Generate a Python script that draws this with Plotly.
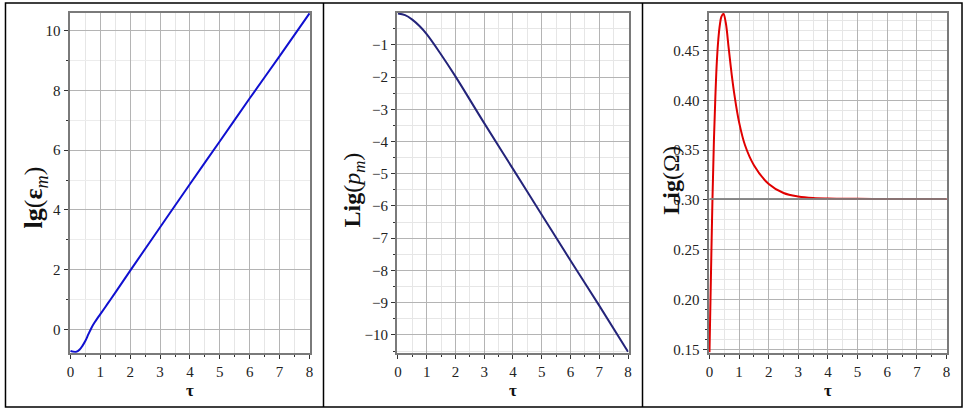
import plotly.graph_objects as go

# --- data ---
tau_eps = [0, 0.1, 0.2, 0.3, 0.4, 0.5, 0.6, 0.7, 0.8, 0.9, 1.0, 1.25, 1.5, 2, 3, 4, 5, 6, 7, 8]
lg_eps = [-0.72, -0.75, -0.75, -0.68, -0.55, -0.38, -0.16, 0.05, 0.22, 0.37, 0.51,
          0.87, 1.23, 1.97, 3.42, 4.87, 6.3, 7.74, 9.15, 10.58]

tau_p = [0, 0.25, 0.5, 0.75, 1.0, 1.5, 2, 3, 4, 5, 6, 7, 8]
lg_p = [-0.03, -0.08, -0.22, -0.42, -0.67, -1.3, -1.98, -3.43, -4.85, -6.27, -7.69, -9.09, -10.52]

tau_om = [0, 0.05, 0.1, 0.15, 0.2, 0.25, 0.3, 0.35, 0.4, 0.47, 0.55, 0.65, 0.75, 0.85,
          1.0, 1.2, 1.5, 2.0, 2.5, 3.0, 3.5, 4, 5, 6, 7, 8]
lg_om = [0.147, 0.225, 0.30, 0.36, 0.405, 0.44, 0.462, 0.476, 0.484, 0.487, 0.478, 0.452,
         0.426, 0.404, 0.378, 0.355, 0.335, 0.316, 0.307, 0.3035, 0.302, 0.3015, 0.3012,
         0.301, 0.301, 0.301]
om_limit = 0.301

W, H = 967, 415
SERIF = "Liberation Serif"

fig = go.Figure()
fig.add_trace(go.Scatter(x=tau_eps, y=lg_eps, mode="lines", line=dict(color="#1010d0", width=2, shape="spline"),
                         xaxis="x", yaxis="y", showlegend=False))
fig.add_trace(go.Scatter(x=tau_p, y=lg_p, mode="lines", line=dict(color="#24247a", width=2, shape="spline"),
                         xaxis="x2", yaxis="y2", showlegend=False))
fig.add_trace(go.Scatter(x=tau_om, y=lg_om, mode="lines", line=dict(color="#e00000", width=2, shape="spline"),
                         xaxis="x3", yaxis="y3", showlegend=False))
fig.add_trace(go.Scatter(x=[0, 8], y=[om_limit, om_limit], mode="lines",
                         line=dict(color="rgba(128,128,128,0.9)", width=2),
                         xaxis="x3", yaxis="y3", showlegend=False))


def px(v):
    return v / W


def py(v):
    return 1 - v / H


common = dict(showline=True, linecolor="#7a7a7a", linewidth=2, mirror=True,
              ticks="outside", ticklen=4, tickcolor="#333", showgrid=True,
              gridcolor="#b4b4b4", gridwidth=1, zeroline=False,
              tickfont=dict(family=SERIF, size=15, color="#222"))

ydom = [py(357), py(13)]
xaxes = [(67, 309), (396.5, 629.5), (710, 950)]
for i, (a, b) in enumerate(xaxes):
    key = "xaxis" if i == 0 else f"xaxis{i + 1}"
    fig.layout[key] = dict(common, domain=[px(a), px(b)], range=[-0.03, 8.02], dtick=1,
                           anchor="y" if i == 0 else f"y{i + 1}",
                           minor=dict(dtick=0.5, ticks="outside", ticklen=2, showgrid=True,
                                      gridcolor="#e6e6e6", tickcolor="#333"))

fig.layout["yaxis"] = dict(common, domain=ydom, range=[-0.78, 10.6], dtick=2, anchor="x",
                           minor=dict(dtick=1, ticks="outside", ticklen=2, showgrid=True,
                                      gridcolor="#ececec", tickcolor="#333"))
fig.layout["yaxis2"] = dict(common, domain=ydom, range=[-10.55, -0.01], dtick=1, anchor="x2",
                            minor=dict(dtick=0.5, ticks="outside", ticklen=2, showgrid=True,
                                       gridcolor="#e6e6e6", tickcolor="#333"))
fig.layout["yaxis3"] = dict(common, domain=ydom, range=[0.1466, 0.488], dtick=0.05, tick0=0,
                            tickformat=".2f", anchor="x3",
                            minor=dict(dtick=0.01, ticks="outside", ticklen=2, showgrid=True,
                                       gridcolor="#e6e6e6", tickcolor="#333"))

ann = []
ytitles = [
    (32, 200, "<b>lg</b>(<b>ε</b><sub><i>m</i></sub>)", 26),
    (353, 192, "<b>Lig</b>(<i>p</i><sub><i>m</i></sub>)", 24),
    (672, 182, "<b>Lig</b>(Ω)", 24),
]
for x, y, t, s in ytitles:
    ann.append(dict(x=px(x), y=py(y), xref="paper", yref="paper", text=t, textangle=-90,
                    xanchor="center", yanchor="middle",
                    showarrow=False, font=dict(family=SERIF, size=s, color="#111")))
for a, b in xaxes:
    ann.append(dict(x=px((a + b) / 2), y=py(395), xref="paper", yref="paper", text="<b>τ</b>",
                    xanchor="center", yanchor="middle",
                    showarrow=False, font=dict(family=SERIF, size=17, color="#111")))

shapes = [
    dict(type="rect", xref="paper", yref="paper", x0=px(2.5), x1=px(965), y0=py(412), y1=py(3),
         line=dict(color="#000", width=1.5)),
    dict(type="line", xref="paper", yref="paper", x0=px(322.5), x1=px(322.5), y0=py(412), y1=py(3),
         line=dict(color="#000", width=1.5)),
    dict(type="line", xref="paper", yref="paper", x0=px(643.5), x1=px(643.5), y0=py(412), y1=py(3),
         line=dict(color="#000", width=1.5)),
]

fig.update_layout(width=W, height=H, margin=dict(l=0, r=0, t=0, b=0),
                  paper_bgcolor="white", plot_bgcolor="white",
                  annotations=ann, shapes=shapes)

fig.write_html("out.html", config={"displayModeBar": False},
               post_script="document.body.style.margin='0';document.body.style.overflow='hidden';")
